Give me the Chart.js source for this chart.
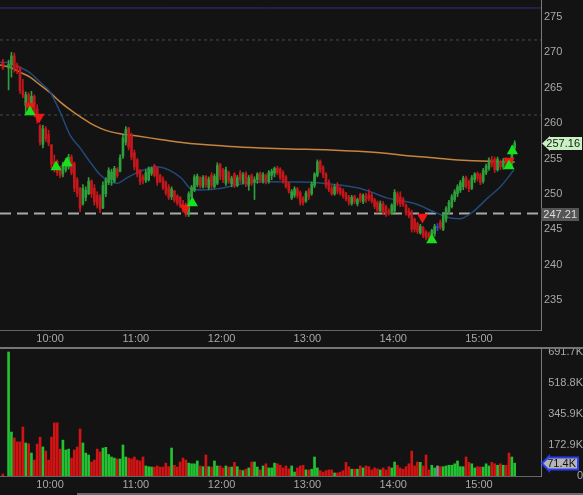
<!DOCTYPE html>
<html><head><meta charset="utf-8"><title>Intraday chart</title>
<script src="https://cdn.jsdelivr.net/npm/chart.js@4.4.1/dist/chart.umd.min.js"></script>
<style>
html,body{margin:0;padding:0;background:#131313;}
body{width:583px;height:495px;position:relative;overflow:hidden;}
canvas{position:absolute;left:0;display:block;}
#priceCanvas{top:0;}
#volCanvas{top:349px;}
.sep{position:absolute;left:0;top:347px;width:583px;height:2px;background:#767676;}
.scroll{position:absolute;left:77px;top:493px;width:506px;height:2px;background:#6a6a6a;}
</style></head>
<body>
<canvas id="priceCanvas" width="583" height="347"></canvas>
<div class="sep"></div>
<canvas id="volCanvas" width="583" height="146"></canvas>
<div class="scroll"></div>
<script>
// ---------- data ----------
const hourTicks = [60, 120, 180, 240, 300, 360];           // minutes after 9:00 -> 10:00 ... 15:00
const priceTicks = [235, 240, 245, 250, 255, 260, 265, 270, 275];
const volumeTicks = [0, 172.9, 345.9, 518.8, 691.7];          // thousands

// first value = pre-market bar (9:27), then 2-minute bars from 9:31
const opens = [268.6,
 267.8, 268.2, 269.5, 268.2, 267.8, 264.6, 262.5, 264.0, 262.5, 263.8,
 262.0, 259.6, 257.0, 259.2, 258.4, 256.9, 254.5, 254.6, 253.7, 252.8,
 253.4, 253.8, 255.2, 254.3, 252.0, 250.8, 248.6, 249.5, 250.0, 251.8,
 250.8, 249.8, 249.6, 248.0, 250.0, 251.6, 252.0, 251.8, 253.5, 253.2,
 255.3, 257.3, 259.3, 258.2, 255.8, 254.8, 253.4, 252.4, 251.9, 252.0,
 252.9, 254.0, 253.6, 252.6, 252.0, 251.6, 250.9, 249.6, 250.4, 249.7,
 249.5, 248.6, 247.9, 247.1, 249.6, 250.5, 251.3, 252.3, 251.0, 252.5,
 250.9, 252.6, 251.0, 251.5, 254.2, 253.4, 251.5, 253.0, 251.4, 252.8,
 251.2, 253.0, 251.6, 252.9, 251.2, 252.6, 251.7, 252.0, 252.9, 251.8,
 252.6, 251.8, 252.6, 252.9, 253.6, 253.5, 253.0, 252.4, 251.6, 249.4,
 249.8, 250.7, 250.2, 249.4, 249.0, 250.5, 250.0, 251.2, 252.6, 254.6,
 253.8, 252.8, 251.7, 250.8, 250.0, 251.3, 250.8, 250.4, 250.0, 249.6,
 248.6, 249.6, 248.6, 249.9, 248.9, 249.7, 249.9, 249.8, 249.2, 248.8,
 247.6, 248.6, 248.2, 247.6, 247.2, 247.6, 250.0, 249.6, 249.2, 248.4,
 247.6, 247.4, 246.4, 245.8, 244.5, 245.2, 244.6, 244.4, 243.8, 244.4,
 245.2, 246.0, 245.0, 246.4, 247.5, 248.2, 249.2, 250.0, 250.5, 251.0,
 252.3, 251.8, 250.8, 252.0, 252.9, 252.7, 251.8, 253.0, 253.6, 254.8,
 254.9, 253.4, 254.6, 253.8, 254.8, 254.9, 254.3, 256.5];
const highs = [269.0,
 268.9, 270.0, 269.9, 268.5, 268.0, 266.2, 264.4, 264.3, 264.5, 264.0,
 262.6, 259.8, 259.7, 259.5, 259.0, 257.0, 255.5, 254.8, 253.9, 254.5,
 255.0, 255.6, 255.5, 254.5, 252.3, 250.9, 251.3, 251.0, 252.3, 252.0,
 251.3, 250.3, 249.9, 251.7, 252.3, 253.7, 253.5, 253.9, 253.7, 255.5,
 258.3, 259.5, 259.4, 258.6, 256.2, 255.0, 253.4, 252.7, 253.4, 253.8,
 253.8, 254.2, 253.8, 252.8, 252.4, 251.8, 251.3, 251.0, 250.5, 249.9,
 249.6, 249.1, 248.7, 250.3, 251.2, 252.7, 252.8, 252.4, 252.6, 252.6,
 252.4, 253.0, 252.8, 254.4, 254.3, 253.6, 253.8, 253.2, 252.5, 253.0,
 252.6, 253.3, 253.0, 253.1, 252.6, 252.8, 252.4, 253.0, 253.1, 253.0,
 252.8, 253.3, 253.5, 253.8, 253.9, 253.7, 253.3, 252.6, 251.6, 250.6,
 251.0, 250.9, 250.4, 249.6, 250.4, 250.8, 251.7, 253.0, 254.8, 254.8,
 254.0, 253.0, 252.0, 251.2, 251.3, 251.6, 251.0, 250.7, 250.2, 249.8,
 249.8, 249.8, 249.4, 250.1, 250.0, 250.1, 250.6, 250.2, 249.4, 249.0,
 249.0, 248.9, 248.4, 247.9, 248.6, 250.6, 250.3, 250.3, 249.5, 248.6,
 248.0, 247.7, 246.6, 246.0, 245.7, 245.4, 244.8, 244.6, 245.0, 245.7,
 245.8, 246.3, 247.4, 248.2, 249.1, 249.9, 250.6, 251.3, 251.9, 252.5,
 252.5, 252.0, 252.6, 253.0, 253.1, 252.9, 253.6, 254.2, 255.1, 255.3,
 255.2, 255.2, 254.8, 255.0, 255.1, 255.0, 256.8, 257.5];
const lows = [267.6,
 264.7, 266.5, 267.2, 267.0, 264.2, 263.6, 261.3, 262.3, 261.5, 260.9,
 260.0, 256.9, 256.5, 257.4, 256.8, 253.7, 253.1, 252.6, 252.3, 252.4,
 253.1, 253.5, 252.7, 250.3, 249.6, 247.5, 248.4, 249.0, 249.9, 249.5,
 248.4, 248.0, 247.3, 247.9, 249.6, 251.3, 251.2, 251.6, 252.3, 253.1,
 255.0, 256.9, 256.2, 254.8, 253.4, 252.4, 251.3, 251.4, 251.6, 251.8,
 252.6, 252.4, 251.2, 251.6, 250.6, 249.8, 249.2, 249.2, 248.8, 248.4,
 248.1, 247.4, 246.8, 246.8, 249.2, 250.3, 251.0, 250.8, 250.8, 250.9,
 250.6, 250.8, 250.8, 251.3, 252.0, 251.6, 251.2, 251.5, 251.0, 250.9,
 251.0, 251.6, 251.4, 251.0, 250.5, 251.2, 249.2, 251.5, 251.6, 251.5,
 251.4, 251.5, 252.0, 252.4, 252.7, 252.0, 251.5, 250.8, 250.1, 249.2,
 249.5, 249.4, 248.4, 248.4, 248.8, 249.2, 249.8, 250.9, 252.4, 253.0,
 252.3, 250.8, 250.3, 249.8, 249.8, 250.0, 249.8, 249.4, 249.0, 248.4,
 248.4, 248.6, 248.3, 248.8, 248.6, 248.8, 249.0, 248.7, 247.9, 247.3,
 247.4, 247.1, 246.8, 247.0, 247.1, 247.3, 248.4, 248.2, 248.2, 247.0,
 246.6, 244.6, 244.6, 244.4, 244.3, 243.8, 243.5, 243.5, 243.6, 244.0,
 244.8, 245.0, 244.8, 246.0, 247.2, 248.0, 248.9, 249.6, 250.2, 250.6,
 250.8, 250.3, 250.6, 251.6, 251.8, 251.3, 251.5, 252.7, 253.3, 253.8,
 253.0, 253.2, 253.4, 253.5, 253.8, 253.9, 254.0, 256.3];
const closes = [267.8,
 268.3, 269.5, 267.6, 267.8, 264.6, 264.0, 264.0, 262.6, 263.8, 261.3,
 260.4, 257.3, 259.2, 257.8, 257.2, 254.2, 253.4, 253.0, 252.6, 254.1,
 254.7, 255.2, 253.0, 250.8, 250.0, 248.0, 250.8, 250.5, 251.8, 250.0,
 248.9, 248.4, 247.8, 251.2, 252.0, 253.3, 253.1, 253.6, 252.6, 255.1,
 257.9, 259.1, 256.6, 255.2, 253.8, 252.8, 251.7, 252.0, 253.0, 253.5,
 253.6, 252.6, 251.6, 251.8, 250.9, 250.1, 249.5, 250.7, 249.1, 248.7,
 248.4, 247.7, 247.1, 250.0, 250.9, 252.4, 252.5, 251.2, 252.3, 251.3,
 252.1, 251.2, 252.5, 254.0, 252.5, 252.0, 253.4, 251.8, 252.2, 251.3,
 252.3, 252.0, 252.7, 251.4, 252.3, 251.5, 252.0, 252.8, 251.9, 252.7,
 251.8, 253.0, 253.2, 253.6, 253.0, 252.3, 251.8, 251.0, 250.4, 250.3,
 250.7, 249.8, 248.8, 248.7, 250.1, 249.6, 251.4, 252.8, 254.5, 253.4,
 252.7, 251.2, 250.6, 250.0, 251.0, 250.4, 250.1, 249.7, 249.3, 248.8,
 249.5, 248.9, 249.2, 249.1, 249.8, 249.1, 249.3, 249.0, 248.2, 247.7,
 248.6, 247.5, 247.1, 247.2, 248.4, 250.2, 248.8, 248.6, 248.5, 247.3,
 246.9, 245.0, 245.0, 244.7, 245.4, 244.1, 243.8, 243.8, 244.8, 245.4,
 245.2, 245.3, 247.1, 247.9, 248.8, 249.6, 250.3, 251.0, 251.6, 252.2,
 251.1, 250.7, 252.3, 252.8, 252.2, 251.6, 253.3, 253.9, 254.8, 254.2,
 253.4, 254.9, 253.8, 254.7, 254.2, 254.2, 256.5, 257.16];
const volumesK = [11,
 691.7, 245, 212, 190, 190, 273, 184, 180, 128, 89,
 178, 217, 162, 139, 89, 217, 296, 296, 150, 200,
 145, 150, 100, 145, 162, 262, 184, 128, 117, 78,
 89, 150, 134, 156, 160, 120, 106, 100, 95, 95,
 173, 106, 100, 95, 106, 89, 84, 106, 56, 52,
 50, 50, 56, 50, 50, 72, 52, 156, 60, 50,
 78, 100, 89, 72, 68, 68, 84, 56, 52, 117,
 52, 50, 84, 56, 56, 45, 56, 50, 50, 76,
 52, 34, 30, 38, 45, 78, 78, 50, 34, 56,
 68, 45, 45, 72, 68, 60, 45, 56, 40, 56,
 22, 45, 56, 60, 34, 34, 38, 106, 45, 30,
 22, 30, 34, 34, 17, 17, 22, 30, 76, 52,
 38, 38, 38, 56, 45, 56, 52, 34, 45, 40,
 34, 45, 34, 52, 45, 78, 60, 45, 38, 52,
 68, 139, 56, 78, 76, 56, 117, 34, 60, 45,
 56, 52, 52, 56, 60, 60, 68, 84, 52, 52,
 106, 76, 68, 45, 52, 50, 50, 68, 56, 76,
 68, 60, 68, 60, 60, 128, 106, 71.4];

// bar time stamps (minutes after 9:00)
const barMinutes = closes.map((_, i) => i === 0 ? 27 : 29 + 2 * i);

// moving averages
const maSlowMinutes = [25, 32, 39, 46, 53, 60, 67, 74, 81, 88, 95, 102, 109, 120, 137, 151, 165, 186, 207, 228, 256, 291, 305, 328, 352, 385];
const maSlowValues  = [268.2, 267.9, 267.2, 266.5, 265.4, 264.3, 263.0, 261.9, 260.9, 260.0, 259.3, 258.8, 258.5, 258.2, 257.7, 257.3, 257.0, 256.7, 256.5, 256.35, 256.2, 255.8, 255.5, 255.1, 254.7, 254.5];
const maFastMinutes = [25, 32, 39, 46, 53, 60, 67, 74, 81, 88, 95, 102, 107, 114, 121, 134, 143, 152, 158, 166, 180, 190, 201, 215, 249, 261, 275, 284, 296, 307, 317, 328, 340, 347, 356, 366, 375, 384.5];
const maFastValues  = [268.6, 268.5, 267.9, 267.1, 265.8, 264.4, 261.6, 258.3, 256.5, 254.5, 252.7, 251.7, 251.5, 252.3, 253.0, 253.85, 253.4, 252.2, 250.8, 250.55, 250.8, 251.25, 251.6, 251.7, 251.55, 251.3, 250.85, 250.3, 249.4, 249.0, 248.5, 247.5, 246.6, 246.5, 247.5, 249.4, 251.0, 253.4];

// signal arrows
const upSignalMinutes   = [46, 64.2, 71.9, 159.5, 327, 381, 383.4];
const upSignalPrices    = [261.57, 253.8, 254.36, 248.7, 243.48, 253.94, 256.06];
const downSignalMinutes = [46, 52.3, 154.6, 320.5, 381];
const downSignalPrices  = [262.4, 260.87, 248.0, 246.73, 254.65];

// horizontal levels
const purpleLevel = 276.27;
const dashedLevels = [271.75, 261.15];
const markerLevel = 247.21;
const lastPrice = 257.16;
const lastVolumeK = volumesK[volumesK.length - 1];

// ---------- helpers ----------
const FONT = '"Liberation Sans", Arial, sans-serif';
const X_MIN = 25, X_MAX = 403.4;
const fmtTime = m => (9 + Math.floor(m / 60)) + ':' + String(Math.round(m % 60)).padStart(2, '0');
const hline = v => [{x: X_MIN, y: v}, {x: X_MAX, y: v}];
const dir = closes.map((c, i) => c > opens[i] ? 'up' : (c < opens[i] ? 'down' : 'flat'));
const candleColor = {up: '#2f9f3b', down: '#c4171c', flat: '#2f45d8'};
const volColor = {up: '#22c232', down: '#d01414', flat: '#8a8a9a'};

function drawTag(ctx, y, o) {
  y = Math.round(y) + 0.5;
  ctx.save();
  ctx.beginPath();
  if (o.arrow) {
    const h = o.h, a = o.arrow;
    ctx.moveTo(o.x0, y);
    ctx.lineTo(o.x0 + a, y - h / 2 - 1);
    ctx.lineTo(o.x0 + a, y - h / 2);
    ctx.lineTo(o.x1, y - h / 2);
    ctx.lineTo(o.x1, y + h / 2);
    ctx.lineTo(o.x0 + a, y + h / 2);
    ctx.lineTo(o.x0 + a, y + h / 2 + 1);
    ctx.closePath();
  } else {
    ctx.rect(o.x0, y - o.h / 2, o.x1 - o.x0, o.h);
  }
  ctx.fillStyle = o.fill;
  ctx.fill();
  if (o.stroke) { ctx.lineWidth = 2; ctx.strokeStyle = o.stroke; ctx.stroke(); }
  ctx.fillStyle = o.color;
  ctx.font = '11px ' + FONT;
  ctx.textAlign = 'right';
  ctx.textBaseline = 'middle';
  ctx.fillText(o.text, o.x1 - 2, y + 0.5);
  ctx.restore();
}

function xScale(h) {
  return {
    type: 'linear', min: X_MIN, max: X_MAX, offset: false,
    grid: {display: false, drawTicks: false},
    border: {display: true, color: '#666', width: 1},
    ticks: {color: '#a8a8a8', font: {family: FONT, size: 11}, padding: 2, maxRotation: 0, autoSkip: false,
            callback: v => fmtTime(v)},
    afterBuildTicks(s) { s.ticks = hourTicks.map(v => ({value: v})); },
    afterFit(s) { s.height = h; s.paddingLeft = 0; s.paddingRight = 0; }
  };
}

// ---------- price chart ----------
new Chart(document.getElementById('priceCanvas'), {
  type: 'bar',
  data: {
    datasets: [
      {type: 'line', data: hline(purpleLevel), borderColor: '#3f2a86', borderWidth: 1, pointRadius: 0, order: 30},
      {type: 'line', data: hline(dashedLevels[0]), borderColor: '#4a4a4a', borderWidth: 1, borderDash: [3, 3], pointRadius: 0, order: 30},
      {type: 'line', data: hline(dashedLevels[1]), borderColor: '#4a4a4a', borderWidth: 1, borderDash: [3, 3], pointRadius: 0, order: 30},
      {type: 'line', data: hline(markerLevel), borderColor: '#a9a9a9', borderWidth: 2, borderDash: [11, 6], pointRadius: 0, order: 29},
      {type: 'line', data: maSlowMinutes.map((m, i) => ({x: m, y: maSlowValues[i]})),
       borderColor: '#c8843e', borderWidth: 1.5, pointRadius: 0, cubicInterpolationMode: 'monotone', order: 6},
      {type: 'line', data: maFastMinutes.map((m, i) => ({x: m, y: maFastValues[i]})),
       borderColor: '#22497a', borderWidth: 1.5, pointRadius: 0, cubicInterpolationMode: 'monotone', order: 5},
      {type: 'bar', data: barMinutes.map((m, i) => ({x: m, y: [lows[i], highs[i]]})),
       backgroundColor: dir.map(d => candleColor[d]), barThickness: 1, grouped: false, order: 4},
      {type: 'bar', data: barMinutes.map((m, i) => ({x: m, y: [opens[i], closes[i]]})),
       backgroundColor: dir.map(d => candleColor[d]), barThickness: 2, minBarLength: 1, grouped: false, order: 3},
      {type: 'scatter', data: downSignalMinutes.map((m, i) => ({x: m, y: downSignalPrices[i]})),
       pointStyle: 'triangle', pointRotation: 180, pointRadius: 6.5, pointBackgroundColor: '#f01616',
       backgroundColor: '#f01616', pointBorderWidth: 0, borderWidth: 0, order: 2},
      {type: 'scatter', data: upSignalMinutes.map((m, i) => ({x: m, y: upSignalPrices[i]})),
       pointStyle: 'triangle', pointRadius: 6.5, pointBackgroundColor: '#18e01c',
       backgroundColor: '#18e01c', pointBorderWidth: 0, borderWidth: 0, order: 1}
    ]
  },
  options: {
    responsive: false, animation: false, events: [],
    layout: {padding: 0, autoPadding: false},
    plugins: {legend: {display: false}, tooltip: {enabled: false}},
    scales: {
      x: xScale(17),
      y: {
        position: 'right', min: 230.76, max: 277.40,
        grid: {display: false, drawTicks: false},
        border: {display: true, color: '#7a7a7a', width: 1},
        ticks: {color: '#a8a8a8', font: {family: FONT, size: 11}, padding: 3, crossAlign: 'near'},
        afterBuildTicks(s) { s.ticks = priceTicks.map(v => ({value: v})); },
        afterFit(s) { s.width = 42; s.paddingTop = 0; s.paddingBottom = 0; }
      }
    }
  },
  plugins: [{
    id: 'priceTags',
    afterDraw(chart) {
      const ys = chart.scales.y, ctx = chart.ctx;
      drawTag(ctx, ys.getPixelForValue(markerLevel), {x0: 541, x1: 579, h: 13, fill: '#555555', color: '#dcdcdc', text: markerLevel.toFixed(2)});
      drawTag(ctx, ys.getPixelForValue(lastPrice), {x0: 542, x1: 582, h: 13, arrow: 8, fill: '#c9f1c2', color: '#151515', text: lastPrice.toFixed(2)});
    }
  }]
});

// ---------- volume chart ----------
new Chart(document.getElementById('volCanvas'), {
  type: 'bar',
  data: {
    datasets: [{
      data: barMinutes.map((m, i) => ({x: m, y: volumesK[i]})),
      backgroundColor: dir.map(d => volColor[d]), barThickness: 2, grouped: false
    }]
  },
  options: {
    responsive: false, animation: false, events: [],
    layout: {padding: 0, autoPadding: false},
    plugins: {legend: {display: false}, tooltip: {enabled: false}},
    scales: {
      x: xScale(19),
      y: {
        position: 'right', min: 0, max: 708.43,
        grid: {display: false, drawTicks: false},
        border: {display: true, color: '#7a7a7a', width: 1},
        ticks: {color: '#a8a8a8', font: {family: FONT, size: 11}, padding: 3, crossAlign: 'far',
                callback: v => v === 0 ? '0' : v.toFixed(1) + 'K'},
        afterBuildTicks(s) { s.ticks = volumeTicks.map(v => ({value: v})); },
        afterFit(s) { s.width = 42; s.paddingTop = 0; s.paddingBottom = 0; }
      }
    }
  },
  plugins: [{
    id: 'volTag',
    afterDraw(chart) {
      const ys = chart.scales.y;
      drawTag(chart.ctx, ys.getPixelForValue(lastVolumeK), {x0: 542, x1: 578, h: 12, arrow: 7, fill: '#b5b5b5', stroke: '#2a3cf0', color: '#111', text: lastVolumeK.toFixed(1) + 'K'});
    }
  }]
});
</script>
</body></html>
